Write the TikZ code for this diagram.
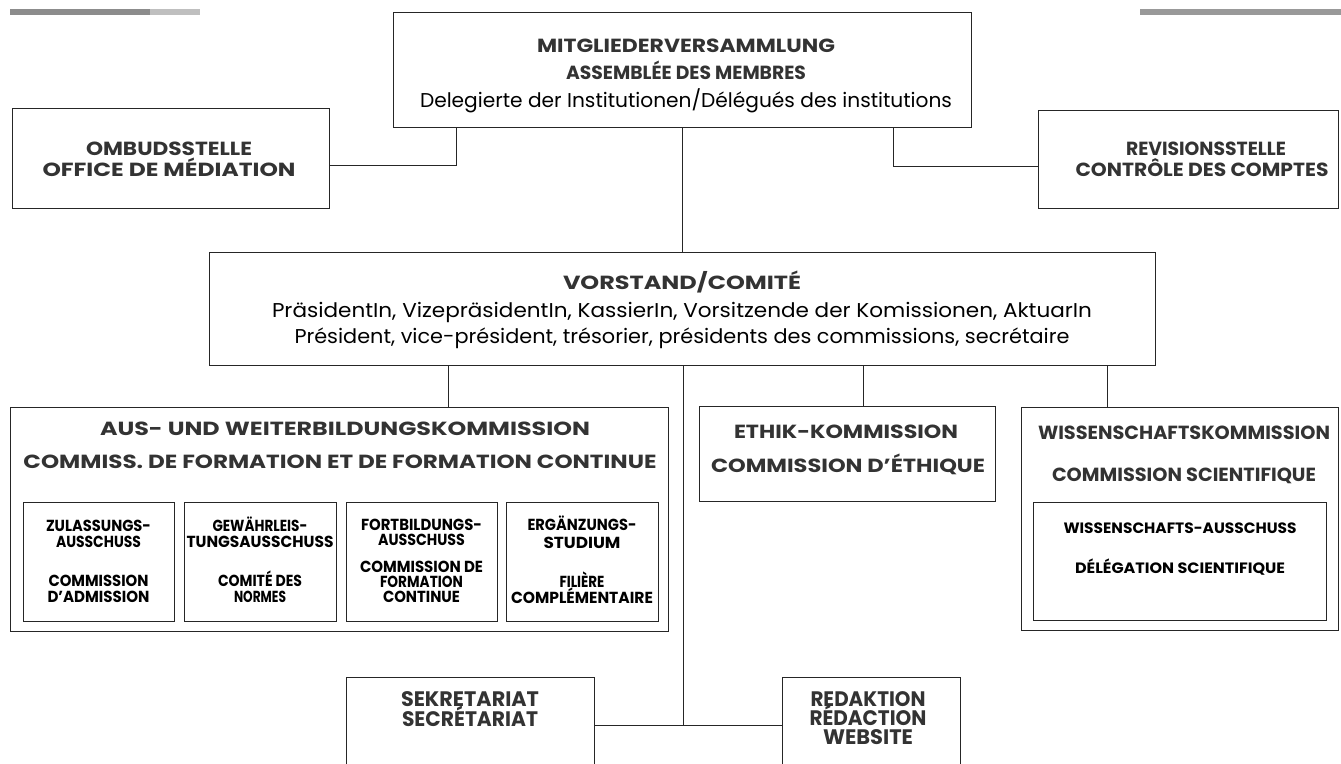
\documentclass[tikz,border=0pt]{standalone}
\usepackage{fontspec}
\setmainfont{Poppins}
\usepackage{graphicx}
\newlength\fitwd
\newcommand\fitw[2]{\setbox0=\hbox{#2}\fitwd=\wd0\relax\pgfmathsetmacro\fitratio{#1/\fitwd}\scalebox{\fitratio}[1]{\box0}}
\tikzset{
 box/.style={draw=black!85, line width=0.9pt, inner sep=0pt, outer sep=0pt, rectangle},
 conn/.style={draw=black!85, line width=0.9pt},
 tx/.style={anchor=base, inner sep=0pt, outer sep=0pt},
 ttl/.style={tx, text=black!80, font=\fontsize{19}{21}\selectfont\bfseries},
 subt/.style={tx, text=black, font=\fontsize{16}{18}\selectfont\bfseries},
 inn/.style={tx, text=black, font=\fontsize{15}{17}\selectfont\bfseries},
 body/.style={tx, text=black, font=\fontsize{20}{22}\selectfont},
 bigt/.style={tx, text=black!80, font=\fontsize{21}{23}\selectfont\bfseries},
}
\begin{document}
\begin{tikzpicture}[x=1pt,y=-1pt]
\useasboundingbox (0,0) rectangle (1341,763);
\clip (0,0) rectangle (1341,763);
% header strips
\fill[black!45] (10,9) rectangle (150,15);
\fill[black!25] (150,9) rectangle (200,15);
\fill[black!40] (1140,9) rectangle (1341,15);

% boxes
\node[box, minimum width=578pt, minimum height=115pt] (mv) at (682,69.5) {};
\node[box, minimum width=317pt, minimum height=100pt] (omb) at (170.5,158) {};
\node[box, minimum width=300pt, minimum height=98pt] (rev) at (1188,159) {};
\node[box, minimum width=946pt, minimum height=113pt] (vor) at (682,308.5) {};
\node[box, minimum width=658pt, minimum height=224pt] (awk) at (339,519) {};
\node[box, minimum width=151pt, minimum height=119pt] (s1) at (98.5,561.5) {};
\node[box, minimum width=152pt, minimum height=119pt] (s2) at (260,561.5) {};
\node[box, minimum width=151pt, minimum height=119pt] (s3) at (421.5,561.5) {};
\node[box, minimum width=152pt, minimum height=119pt] (s4) at (582,561.5) {};
\node[box, minimum width=296pt, minimum height=95pt] (eth) at (847,453.5) {};
\node[box, minimum width=317pt, minimum height=223pt] (wis) at (1179.5,518.5) {};
\node[box, minimum width=293pt, minimum height=118pt] (wisin) at (1179.5,561) {};
\node[box, minimum width=248pt, minimum height=123pt] (sek) at (470,738.5) {};
\node[box, minimum width=178pt, minimum height=123pt] (red) at (871,738.5) {};

% connectors
\coordinate (jl) at (456,165);
\coordinate (jr) at (893,166);
\coordinate (c1) at (448,0);
\coordinate (c3) at (863,0);
\coordinate (c4) at (1107,0);
\coordinate (jb) at (683,725);
\draw[conn] (mv.south -| jl) -- (jl) -- (omb.east |- jl);
\draw[conn] (mv.south -| jr) -- (jr) -- (rev.west |- jr);
\draw[conn] (mv.south) -- (mv.south |- vor.north);
\draw[conn] (vor.south -| c1) -- (awk.north -| c1);
\draw[conn] (vor.south -| c3) -- (eth.north -| c3);
\draw[conn] (vor.south -| c4) -- (wis.north -| c4);
\draw[conn] (vor.south -| jb) -- (jb);
\draw[conn] (sek.east |- jb) -- (red.west |- jb);

% texts
\node[ttl] (mv1) at (686,52) {\fitw{298}{MITGLIEDERVERSAMMLUNG}};
\node[ttl] (mv2) at (686,79) {\fitw{240}{ASSEMBLÉE DES MEMBRES}};
\node[body] (mv3) at (686,107) {\fitw{532}{Delegierte der Institutionen/Délégués des institutions}};

\node[ttl] (om1) at (169,155) {\fitw{166}{OMBUDSSTELLE}};
\node[ttl] (om2) at (169,176) {\fitw{253}{OFFICE DE MÉDIATION}};

\node[ttl] (rv1) at (1206,155) {\fitw{160}{REVISIONSSTELLE}};
\node[ttl] (rv2) at (1202,176) {\fitw{253}{CONTRÔLE DES COMPTES}};

\node[ttl] (vo1) at (682,289) {\fitw{238}{VORSTAND/COMITÉ}};
\node[body] (vo2) at (682,317) {\fitw{820}{PräsidentIn, VizepräsidentIn, KassierIn, Vorsitzende der Komissionen, AktuarIn}};
\node[body] (vo3) at (682,343) {\fitw{775}{Président, vice-président, trésorier, présidents des commissions, secrétaire}};

\node[ttl] (aw1) at (345,435) {\fitw{490}{AUS- UND WEITERBILDUNGSKOMMISSION}};
\node[ttl] (aw2) at (340,468) {\fitw{633}{COMMISS. DE FORMATION ET DE FORMATION CONTINUE}};

\node[subt] (a1) at (98.5,531) {\fitw{105}{ZULASSUNGS-}};
\node[subt] (a2) at (98.5,547) {\fitw{85}{AUSSCHUSS}};
\node[subt] (a3) at (98.5,586) {\fitw{100}{COMMISSION}};
\node[subt] (a4) at (98.5,602) {\fitw{102}{D'ADMISSION}};

\node[subt] (b1) at (260,531) {\fitw{95}{GEWÄHRLEIS-}};
\node[subt] (b2) at (260,547) {\fitw{147}{TUNGSAUSSCHUSS}};
\node[subt] (b3) at (260,586) {\fitw{84}{COMITÉ DES}};
\node[subt] (b4) at (260,602) {\fitw{52}{NORMES}};

\node[subt] (d1) at (421.5,530) {\fitw{121}{FORTBILDUNGS-}};
\node[subt] (d2) at (421.5,545) {\fitw{87}{AUSSCHUSS}};
\node[subt] (d3) at (421.5,572) {\fitw{123}{COMMISSION DE}};
\node[subt] (d4) at (421.5,587) {\fitw{83}{FORMATION}};
\node[subt] (d5) at (421.5,602) {\fitw{77}{CONTINUE}};

\node[subt] (e1) at (582,530) {\fitw{109}{ERGÄNZUNGS-}};
\node[subt] (e2) at (582,548) {\fitw{77}{STUDIUM}};
\node[subt] (e3) at (582,587) {\fitw{45}{FILIÈRE}};
\node[subt] (e4) at (582,603) {\fitw{142}{COMPLÉMENTAIRE}};

\node[ttl] (et1) at (846,438) {\fitw{224}{ETHIK-KOMMISSION}};
\node[ttl] (et2) at (848,472) {\fitw{274}{COMMISSION D’ÉTHIQUE}};

\node[ttl] (wi1) at (1184,439) {\fitw{292}{WISSENSCHAFTSKOMMISSION}};
\node[ttl] (wi2) at (1184,481) {\fitw{264}{COMMISSION SCIENTIFIQUE}};
\node[inn] (wi3) at (1180,533) {\fitw{233}{WISSENSCHAFTS-AUSSCHUSS}};
\node[inn] (wi4) at (1180,573) {\fitw{210}{DÉLÉGATION SCIENTIFIQUE}};

\node[bigt] (se1) at (470,706) {\fitw{138}{SEKRETARIAT}};
\node[bigt] (se2) at (470,726) {\fitw{136}{SECRÉTARIAT}};

\node[bigt] (re1) at (868,706) {\fitw{115}{REDAKTION}};
\node[bigt] (re2) at (868,725) {\fitw{117}{RÉDACTION}};
\node[bigt] (re3) at (868,744) {\fitw{90}{WEBSITE}};
\end{tikzpicture}
\end{document}
